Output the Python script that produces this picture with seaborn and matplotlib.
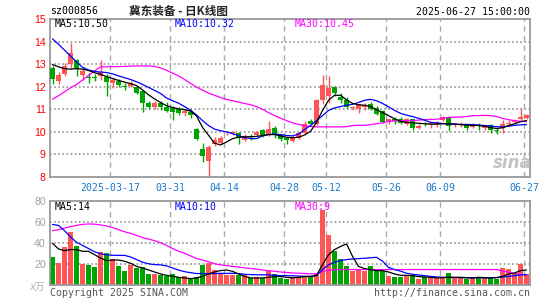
import numpy as np
import pandas as pd
import seaborn as sns
import matplotlib.pyplot as plt

sns.set_style('white')
plt.rcParams['font.family'] = ['DejaVu Sans Mono', 'Noto Sans CJK SC']

# trading days shown (weekdays minus exchange holidays)
holidays = ['2025-04-04', '2025-05-01', '2025-05-02', '2025-05-05', '2025-06-02']
days = pd.bdate_range('2025-03-03', '2025-06-27')
days = days[~days.isin(pd.to_datetime(holidays))]

open_ = [12.85, 12.24, 12.56, 13.00, 13.18, 12.53, 12.44, 12.44, 12.49, 12.41,
         12.15, 12.26, 12.03, 12.04, 11.97, 11.79, 11.26, 11.12, 11.26, 11.09,
         11.06, 11.00, 10.85, 10.90, 10.12, 9.26, 8.69, 9.44, 9.52, 9.93,
         9.90, 9.96, 9.65, 9.82, 9.87, 10.08, 9.86, 10.19, 9.86, 9.71,
         9.59, 9.74, 9.96, 10.48, 10.36, 11.40, 11.59, 11.99, 11.56, 11.40,
         11.05, 11.03, 11.10, 11.23, 11.07, 10.92, 10.43, 10.56, 10.55, 10.37,
         10.55, 10.18, 10.40, 10.34, 10.37, 10.52, 10.64, 10.30, 10.31, 10.33,
         10.22, 10.31, 10.19, 10.30, 10.07, 10.19, 10.36, 10.44, 10.55, 10.62]
high = [12.90, 12.63, 13.04, 13.94, 13.24, 12.81, 12.59, 12.56, 13.20, 12.56,
        12.41, 12.32, 12.15, 12.24, 12.03, 11.85, 11.38, 11.38, 11.35, 11.32,
        11.16, 11.12, 11.00, 11.00, 10.18, 9.51, 9.43, 9.77, 9.81, 10.04,
        10.04, 10.00, 9.90, 9.89, 10.04, 10.11, 10.48, 10.26, 9.92, 9.77,
        9.81, 10.00, 10.48, 10.56, 11.44, 12.53, 12.48, 12.04, 11.71, 11.55,
        11.15, 11.22, 11.30, 11.33, 11.16, 10.96, 10.59, 10.67, 10.64, 10.62,
        10.59, 10.33, 10.44, 10.46, 10.47, 10.70, 10.67, 10.40, 10.44, 10.37,
        10.40, 10.40, 10.31, 10.37, 10.15, 10.52, 10.52, 10.55, 11.04, 10.81]
low = [12.12, 12.12, 12.46, 12.82, 12.49, 12.29, 12.16, 12.26, 12.30, 11.57,
       11.94, 11.97, 11.85, 11.97, 11.68, 10.87, 11.00, 11.00, 10.97, 10.87,
       10.53, 10.76, 10.71, 10.62, 9.62, 8.66, 8.04, 9.37, 9.47, 9.86,
       9.84, 9.47, 9.59, 9.62, 9.83, 9.77, 9.81, 9.74, 9.59, 9.47,
       9.55, 9.67, 9.92, 10.29, 10.30, 11.25, 11.30, 11.59, 11.30, 11.07,
       10.98, 10.82, 10.95, 10.96, 10.73, 10.41, 10.37, 10.37, 10.34, 10.31,
       10.10, 10.13, 10.27, 10.19, 10.22, 10.46, 10.04, 10.22, 10.22, 10.10,
       10.15, 10.10, 10.07, 9.97, 9.90, 9.93, 10.27, 10.37, 10.52, 10.59]
close = [12.34, 12.51, 12.90, 13.50, 12.82, 12.68, 12.40, 12.37, 12.63, 12.19,
         12.29, 12.07, 12.00, 12.15, 11.71, 11.26, 11.12, 11.26, 11.09, 10.94,
         10.88, 10.82, 10.94, 10.76, 9.68, 8.93, 9.35, 9.64, 9.73, 9.96,
         9.98, 9.74, 9.80, 9.77, 10.00, 9.86, 10.13, 9.86, 9.67, 9.62,
         9.77, 9.96, 10.36, 10.33, 11.40, 12.08, 11.96, 11.70, 11.41, 11.12,
         11.12, 11.22, 11.20, 11.01, 10.77, 10.44, 10.56, 10.49, 10.40, 10.55,
         10.19, 10.27, 10.34, 10.40, 10.43, 10.65, 10.28, 10.33, 10.33, 10.15,
         10.30, 10.25, 10.25, 10.07, 10.04, 10.34, 10.40, 10.52, 10.65, 10.76]

ma5 = [12.98, 12.88, 12.80, 12.78, 12.80, 12.78, 12.72, 12.62, 12.55, 12.45,
       12.36, 12.28, 12.20, 12.14, 12.05, 11.86, 11.64, 11.46, 11.30, 11.16,
       11.08, 11.02, 10.98, 10.92, 10.70, 10.20, 9.85, 9.50, 9.42, 9.55,
       9.70, 9.76, 9.78, 9.78, 9.80, 9.84, 9.88, 9.88, 9.82, 9.76,
       9.74, 9.76, 9.86, 10.02, 10.42, 10.95, 11.40, 11.62, 11.62, 11.42,
       11.26, 11.20, 11.18, 11.12, 10.98, 10.86, 10.72, 10.58, 10.47, 10.42,
       10.40, 10.38, 10.36, 10.34, 10.34, 10.36, 10.36, 10.35, 10.32, 10.30,
       10.29, 10.28, 10.25, 10.19, 10.15, 10.18, 10.28, 10.36, 10.45, 10.50]
ma10 = [14.12, 13.88, 13.62, 13.36, 13.10, 12.86, 12.74, 12.68, 12.65, 12.63,
        12.57, 12.48, 12.40, 12.32, 12.22, 12.10, 11.97, 11.84, 11.70, 11.50,
        11.38, 11.27, 11.12, 10.96, 10.75, 10.50, 10.28, 10.12, 10.05, 10.00,
        9.92, 9.84, 9.75, 9.70, 9.70, 9.82, 9.88, 9.90, 9.88, 9.84,
        9.82, 9.90, 10.10, 10.28, 10.50, 10.72, 10.95, 11.06, 11.12, 11.18,
        11.22, 11.30, 11.40, 11.44, 11.38, 11.26, 11.11, 10.95, 10.82, 10.74,
        10.68, 10.60, 10.52, 10.42, 10.40, 10.37, 10.35, 10.34, 10.33, 10.33,
        10.32, 10.30, 10.28, 10.26, 10.23, 10.22, 10.25, 10.29, 10.31, 10.32]
ma30 = [11.45, 11.60, 11.78, 11.95, 12.10, 12.30, 12.50, 12.70, 12.88, 12.88,
        12.89, 12.89, 12.90, 12.91, 12.92, 12.92, 12.92, 12.90, 12.83, 12.73,
        12.60, 12.48, 12.32, 12.15, 11.98, 11.85, 11.72, 11.62, 11.52, 11.44,
        11.38, 11.32, 11.26, 11.20, 11.12, 11.00, 10.85, 10.72, 10.60, 10.50,
        10.40, 10.33, 10.27, 10.24, 10.22, 10.22, 10.22, 10.22, 10.22, 10.23,
        10.28, 10.29, 10.29, 10.32, 10.36, 10.40, 10.47, 10.48, 10.49, 10.50,
        10.50, 10.52, 10.54, 10.55, 10.56, 10.60, 10.64, 10.65, 10.66, 10.68,
        10.72, 10.72, 10.73, 10.72, 10.68, 10.60, 10.54, 10.50, 10.47, 10.45]

volume = [27.0, 21.3, 36.5, 51.0, 37.5, 20.3, 19.4, 17.5, 32.0, 30.8,
          25.0, 18.4, 13.7, 19.4, 16.5, 17.5, 10.8, 10.8, 9.8, 9.2,
          10.8, 8.3, 8.9, 7.3, 8.3, 19.4, 21.3, 14.9, 11.4, 9.5,
          9.5, 10.2, 9.5, 6.7, 7.9, 7.0, 13.7, 10.5, 7.0, 6.3,
          7.6, 7.6, 8.6, 7.6, 10.8, 72.0, 48.3, 33.0, 25.0, 18.7,
          14.0, 14.9, 13.3, 18.7, 14.9, 13.3, 9.2, 7.9, 7.9, 9.5,
          9.8, 6.3, 7.6, 7.0, 7.0, 7.6, 11.7, 7.0, 7.6, 6.3,
          7.6, 7.0, 7.9, 7.0, 6.3, 16.5, 15.9, 11.7, 20.3, 10.8]
vol_ma5 = [40.0, 34.6, 33.0, 34.0, 34.0, 32.4, 32.4, 29.2, 26.0, 23.5,
           24.1, 24.1, 22.9, 21.0, 18.0, 16.5, 14.6, 12.7, 10.8, 9.5,
           8.6, 7.6, 7.0, 6.3, 7.0, 8.6, 10.8, 12.7, 14.0, 14.6,
           13.3, 10.8, 8.6, 7.0, 7.0, 7.0, 7.6, 8.3, 8.3, 7.6,
           7.0, 7.6, 8.3, 8.3, 9.5, 19.7, 29.2, 34.0, 37.0, 39.4,
           27.6, 18.0, 15.9, 14.9, 14.0, 14.0, 12.7, 10.8, 9.5, 9.5,
           9.2, 8.3, 7.9, 7.6, 7.0, 7.3, 7.6, 7.6, 7.6, 7.3,
           7.0, 7.6, 7.3, 7.0, 7.3, 8.6, 10.8, 11.7, 14.0, 14.6]
vol_ma10 = [58.0, 57.0, 52.0, 46.0, 41.0, 38.0, 35.0, 32.0, 30.0, 29.0,
            28.6, 28.5, 28.5, 27.0, 24.5, 22.0, 20.5, 19.7, 19.5, 18.5,
            16.5, 14.5, 13.0, 12.0, 11.2, 11.2, 11.0, 11.2, 11.4, 11.4,
            11.4, 11.2, 10.5, 10.2, 10.0, 10.0, 10.0, 9.6, 9.2, 9.2,
            9.0, 8.8, 8.6, 8.6, 9.2, 15.0, 19.5, 22.0, 23.5, 24.5,
            25.0, 25.4, 25.8, 26.2, 26.7, 23.0, 17.0, 15.0, 13.5, 11.5,
            10.5, 9.8, 9.2, 8.5, 8.0, 7.6, 7.6, 7.4, 7.3, 7.2,
            7.2, 7.2, 7.2, 7.2, 7.3, 7.8, 8.5, 9.2, 9.8, 10.2]
vol_ma30 = [52.0, 53.0, 54.5, 56.0, 57.0, 58.0, 58.4, 58.2, 57.5, 56.5,
            55.0, 53.0, 51.0, 49.5, 47.5, 45.5, 44.0, 42.5, 40.5, 38.0,
            35.0, 32.5, 30.5, 28.0, 25.5, 24.0, 22.5, 20.5, 19.5, 18.8,
            18.0, 17.4, 16.6, 16.0, 15.5, 14.5, 13.9, 13.3, 12.7, 12.2,
            11.8, 11.5, 11.2, 11.0, 11.0, 13.2, 14.3, 14.8, 15.0, 15.0,
            15.0, 15.0, 15.0, 15.0, 15.0, 15.0, 15.0, 15.0, 15.0, 15.0,
            15.0, 15.0, 15.0, 15.0, 15.0, 15.0, 15.0, 15.0, 15.0, 15.0,
            15.0, 15.0, 15.0, 15.0, 15.0, 13.6, 12.4, 11.3, 10.5, 9.9]

tick_days = ['2025-03-17', '2025-03-31', '2025-04-14', '2025-04-28',
             '2025-05-12', '2025-05-26', '2025-06-09', '2025-06-27']
tick_labels = ['2025-03-17', '03-31', '04-14', '04-28', '05-12', '05-26', '06-09', '06-27']
price_ticks = [8, 9, 10, 11, 12, 13, 14, 15]
vol_ticks = [20, 40, 60, 80]

RED = '#ff5555'
GREEN = '#00a400'
W, H = 545, 300


def fx(x):
    return x / W


def fy(y):
    return 1 - y / H


x = np.arange(len(days))
o, c = np.array(open_), np.array(close)
up = c >= o
colors = np.where(up, RED, GREEN)
slot_off = 0.42
tick_pos = [days.get_loc(pd.Timestamp(d)) for d in tick_days]

fig = plt.figure(figsize=(5.45, 3.0), dpi=100)
ax = fig.add_axes([fx(50), fy(177), fx(480), 158 / H])
axv = fig.add_axes([fx(50), fy(285.3), fx(480), 84 / H])

dashed = dict(color='#aaaaaa', lw=1.0, ls=(0, (4, 3)), zorder=1)
dotted = dict(color='#8c8c8c', lw=1.1, ls=(0, (1.1, 1.6)), zorder=1)

# price panel
for p in price_ticks[1:-1]:
    sns.lineplot(x=[-slot_off, len(days) - slot_off], y=[p, p], ax=ax, **dotted)
for p in tick_pos:
    ax.axvline(p - slot_off, **dashed)
ax.vlines(x, low, high, colors=colors, lw=1.0, zorder=2)
body = np.maximum(np.abs(c - o), 0.035)
ax.bar(x, body, bottom=np.minimum(o, c), width=0.75, color=colors, lw=0, zorder=3)
sns.lineplot(x=x, y=ma30, ax=ax, color='#ff00ff', lw=0.9, zorder=4)
sns.lineplot(x=x, y=ma10, ax=ax, color='#0000ff', lw=0.9, zorder=5)
sns.lineplot(x=x, y=ma5, ax=ax, color='black', lw=0.9, zorder=6)
ax.set_xlim(-slot_off, len(days) - slot_off)
ax.set_ylim(8, 15)
ax.set_yticks(price_ticks)
ax.set_yticklabels([str(p) for p in price_ticks], color='red',
                   fontsize=7.6, family='Liberation Sans')
ax.set_xticks([p - slot_off for p in tick_pos])
ax.set_xticklabels(tick_labels, color='#1a7acc', fontsize=7.1)
ax.tick_params(length=0, pad=3)
ax.tick_params(axis='x', pad=4)

# volume panel
for v in vol_ticks[:-1]:
    sns.lineplot(x=[-slot_off, len(days) - slot_off], y=[v, v], ax=axv, **dotted)
for p in tick_pos:
    axv.axvline(p - slot_off, **dashed)
axv.bar(x, volume, width=0.78, color=colors, lw=0, zorder=2)
sns.lineplot(x=x, y=vol_ma30, ax=axv, color='#ff00ff', lw=0.9, zorder=4)
sns.lineplot(x=x, y=vol_ma10, ax=axv, color='#0000ff', lw=0.9, zorder=5)
sns.lineplot(x=x, y=vol_ma5, ax=axv, color='black', lw=0.9, zorder=6)
axv.set_xlim(-slot_off, len(days) - slot_off)
axv.set_ylim(0, 80)
axv.set_yticks(vol_ticks)
axv.set_yticklabels([str(v) for v in vol_ticks], color='#a0a0a0',
                    fontsize=7.6, family='Liberation Sans')
axv.set_xticks([])
axv.tick_params(length=0, pad=3)

for a in (ax, axv):
    a.set_xlabel('')
    a.set_ylabel('')
    for s in a.spines.values():
        s.set_color('#999999')
        s.set_linewidth(1.3)

# texts
mono = dict(fontsize=7.1, va='center')
fig.text(fx(50), fy(11.5), 'sz000856', ha='left', color='black', **mono)
fig.text(fx(178), fy(11), '冀东装备 - 日K线图', ha='center', va='center',
         fontsize=8.4, weight='bold', family=['Noto Sans CJK SC', 'DejaVu Sans'])
fig.text(fx(530), fy(12), '2025-06-27 15:00:00', ha='right', color='black', **mono)
fig.text(fx(55), fy(24), 'MA5:%.2f' % ma5[-1], color='black', **mono)
fig.text(fx(175), fy(24), 'MA10:%.2f' % ma10[-1], color='#0000ff', **mono)
fig.text(fx(295), fy(24), 'MA30:%.2f' % ma30[-1], color='#ff00ff', **mono)
fig.text(fx(55), fy(206.5), 'MA5:14', color='black', **mono)
fig.text(fx(175), fy(206.5), 'MA10:10', color='#0000ff', **mono)
fig.text(fx(295), fy(206.5), 'MA30:9', color='#ff00ff', **mono)
fig.text(fx(45), fy(287), 'x万', ha='right', va='center', color='#b0b0b0',
         fontsize=7, style='italic', family=['DejaVu Sans', 'Noto Sans CJK SC'])
fig.text(fx(50), fy(292.5), 'Copyright 2025 SINA.COM', ha='left', color='#555555', **mono)
fig.text(fx(530), fy(292.5), 'http://finance.sina.com.cn', ha='right', color='#555555', **mono)
fig.text(fx(512), fy(163), 'sina', ha='center', va='center', color='#c4c4c4',
         fontsize=12, style='italic', weight='bold', family='DejaVu Sans')

fig.savefig('out.png', dpi=100)
